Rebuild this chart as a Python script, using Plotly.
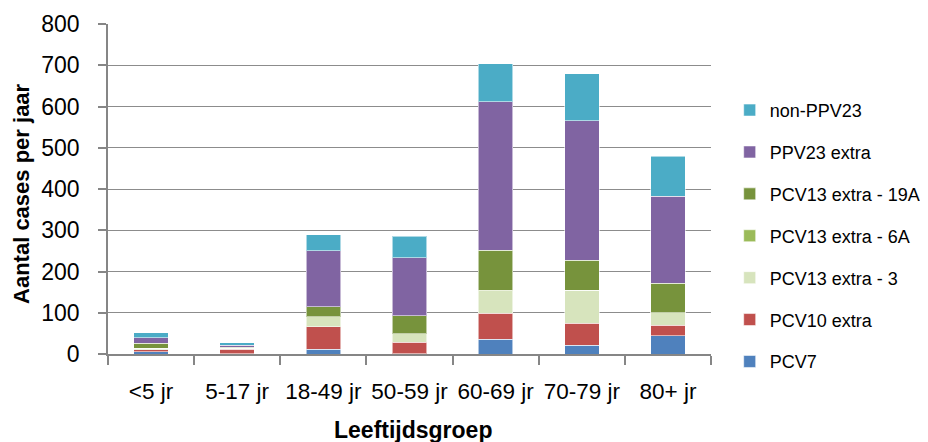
import plotly.graph_objects as go

categories = ["<5 jr", "5-17 jr", "18-49 jr", "50-59 jr", "60-69 jr", "70-79 jr", "80+ jr"]

pcv7 = [6, 1, 11, 1, 36, 21, 44]
pcv10_extra = [4, 11, 55, 28, 63, 54, 26]
pcv13_3 = [4, 2, 24, 20, 54, 79, 30]
pcv13_6a = [0, 0, 0, 0, 1, 1, 0]
pcv13_19a = [12, 2, 25, 44, 97, 72, 71]
ppv23_extra = [14, 5, 135, 140, 361, 339, 212]
non_ppv23 = [12, 6, 39, 53, 92, 114, 97]

series = [
    ("PCV7", pcv7, "#4F81BD"),
    ("PCV10 extra", pcv10_extra, "#C0504D"),
    ("PCV13 extra - 3", pcv13_3, "#D7E4BD"),
    ("PCV13 extra - 6A", pcv13_6a, "#9BBB59"),
    ("PCV13 extra - 19A", pcv13_19a, "#77933C"),
    ("PPV23 extra", ppv23_extra, "#8064A2"),
    ("non-PPV23", non_ppv23, "#4BACC6"),
]

y_ticks = [0, 100, 200, 300, 400, 500, 600, 700, 800]

FONT = "Liberation Sans"

fig = go.Figure()
n = len(series)
for i, (name, vals, color) in enumerate(series):
    fig.add_trace(go.Bar(
        x=categories, y=vals, name=name, legendgroup=name, legendrank=n - i,
        marker=dict(color=color, line=dict(color="rgba(255,255,255,0.55)", width=1)),
    ))

fig.update_layout(
    barmode="stack",
    bargap=0.6,
    width=920, height=434,
    margin=dict(l=100, r=217, t=16, b=88, autoexpand=False),
    paper_bgcolor="white", plot_bgcolor="white",
    font=dict(family=FONT, color="black"),
    showlegend=True,
    legend=dict(
        x=1.031, xanchor="left", y=0.358, yanchor="middle",
        traceorder="grouped", tracegroupgap=15.5,
        font=dict(family=FONT, size=18, color="black"),
        itemwidth=30,
    ),
    annotations=[
        dict(text="<b>Aantal cases per jaar</b>", xref="paper", yref="paper",
             x=-0.1426, y=0.485, xanchor="center", yanchor="middle", textangle=-90,
             showarrow=False, font=dict(family=FONT, size=22, color="black")),
        dict(text="<b>Leeftijdsgroep</b>", xref="paper", yref="paper",
             x=0.506, y=-0.23, xanchor="center", yanchor="middle",
             showarrow=False, font=dict(family=FONT, size=23, color="black")),
    ],
)

fig.update_xaxes(
    type="category",
    showline=True, linecolor="#868686", linewidth=1.5,
    ticks="outside", tickson="boundaries", ticklen=9, tickcolor="#868686", tickwidth=1.5,
    tickfont=dict(family=FONT, size=22.5, color="black"),
    tickangle=0,
    ticklabelstandoff=16,
    showgrid=False,
)
fig.update_yaxes(
    range=[0, 800], tickvals=y_ticks,
    showline=True, linecolor="#868686", linewidth=1.5,
    ticks="outside", ticklen=8, tickcolor="#868686", tickwidth=1.5,
    tickfont=dict(family=FONT, size=23, color="black"),
    ticklabelstandoff=14,
    showgrid=True, gridcolor="#8C8C8C", gridwidth=1.2,
    zeroline=False,
)

fig.write_html("out.html")
